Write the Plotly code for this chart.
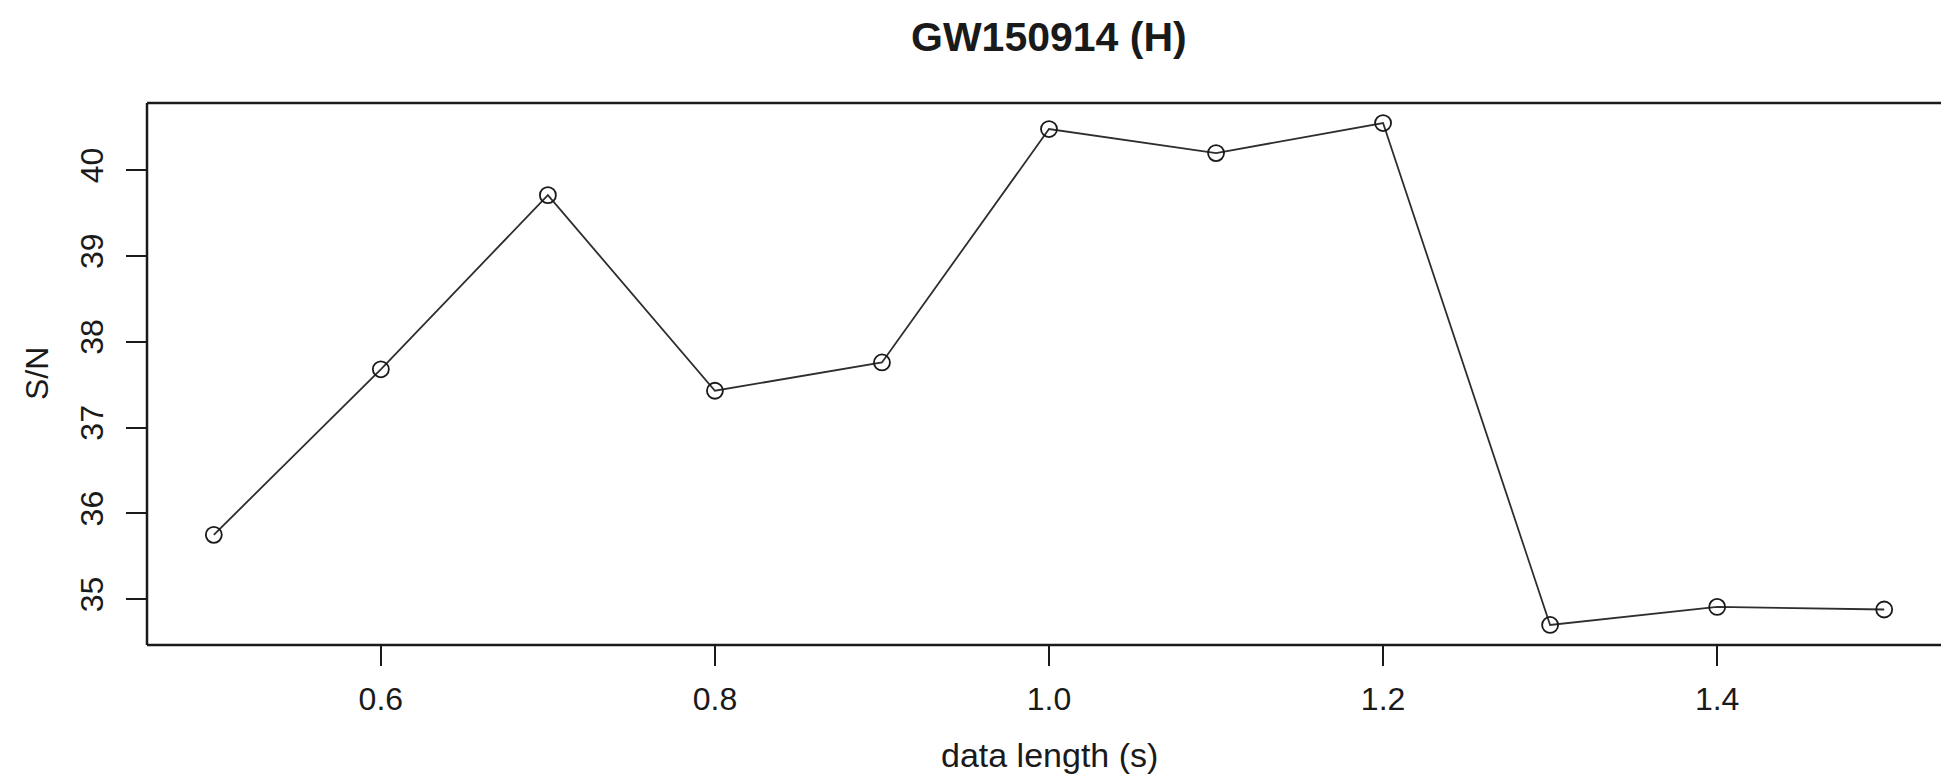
import plotly.graph_objects as go

# Signal-to-noise ratio versus analysed data length
data_length_s = [0.5, 0.6, 0.7, 0.8, 0.9, 1.0, 1.1, 1.2, 1.3, 1.4, 1.5]
snr = [35.75, 37.68, 39.71, 37.43, 37.76, 40.48, 40.20, 40.55, 34.70, 34.91, 34.88]

x_ticks = [0.6, 0.8, 1.0, 1.2, 1.4]
x_tick_text = ["0.6", "0.8", "1.0", "1.2", "1.4"]
y_ticks = [35, 36, 37, 38, 39, 40]

title_text = "GW150914 (H)"
x_title = "data length (s)"
y_title = "S/N"

FONT = "Liberation Sans, Arial, Helvetica, sans-serif"
INK = "#1a1a1a"
TICK_SIZE = 32

W, H = 1941, 780
M_L, M_R, M_T, M_B = 147, 0, 103, 135

# R-style 4% padding around the data; the panel runs past the right edge of the page
x_pad = 0.04 * (max(data_length_s) - min(data_length_s))
y_pad = 0.04 * (max(snr) - min(snr))
x_lo = min(data_length_s) - x_pad
x_hi_full = max(data_length_s) + x_pad
full_panel_px = 1804  # width of the full panel in pixels
x_hi = x_lo + (x_hi_full - x_lo) * (W - M_L - M_R) / full_panel_px
x_mid = (x_lo + x_hi_full) / 2
y_lo = min(snr) - y_pad
y_hi = max(snr) + y_pad

fig = go.Figure()
fig.add_trace(go.Scatter(
    x=data_length_s,
    y=snr,
    mode="lines+markers",
    line=dict(color="#2e2e2e", width=1.8),
    marker=dict(symbol="circle-open", size=16, color=INK, line=dict(width=1.8, color=INK)),
    showlegend=False,
    hoverinfo="x+y",
))

# Panel frame: left, top and bottom edges (the right edge lies off the page)
frame = dict(type="line", xref="paper", yref="paper", layer="above",
             line=dict(color=INK, width=2.5))
shapes = [
    dict(frame, x0=0, x1=0, y0=0, y1=1),
    dict(frame, x0=0, x1=1, y0=1, y1=1),
    dict(frame, x0=0, x1=1, y0=0, y1=0),
]

fig.update_layout(
    width=W,
    height=H,
    margin=dict(l=M_L, r=M_R, t=M_T, b=M_B, pad=0),
    paper_bgcolor="white",
    plot_bgcolor="white",
    font=dict(family=FONT, color=INK, size=TICK_SIZE),
    shapes=shapes,
    xaxis=dict(
        range=[x_lo, x_hi],
        tickvals=x_ticks,
        ticktext=x_tick_text,
        ticks="outside",
        ticklen=20,
        tickwidth=1.5,
        tickcolor=INK,
        showline=False,
        showgrid=False,
        zeroline=False,
        tickfont=dict(size=TICK_SIZE, family=FONT, color=INK),
        ticklabelstandoff=6,
    ),
    yaxis=dict(
        range=[y_lo, y_hi],
        tickvals=y_ticks,
        ticks="outside",
        ticklen=20,
        tickwidth=1.5,
        tickcolor=INK,
        showline=False,
        showgrid=False,
        zeroline=False,
        tickangle=-90,
        tickfont=dict(size=TICK_SIZE, family=FONT, color=INK),
        ticklabelstandoff=10,
    ),
    annotations=[
        dict(text=f"<b>{title_text}</b>", xref="x", yref="paper", x=x_mid, y=1.0,
             yshift=66, xanchor="center", yanchor="middle", showarrow=False,
             font=dict(size=41, family=FONT, color=INK)),
        dict(text=x_title, xref="x", yref="paper", x=x_mid, y=0.0,
             yshift=-110, xanchor="center", yanchor="middle", showarrow=False,
             font=dict(size=34, family=FONT, color=INK)),
        dict(text=y_title, xref="paper", yref="y", x=0.0, y=(y_lo + y_hi) / 2,
             xshift=-110, xanchor="center", yanchor="middle", textangle=-90,
             showarrow=False, font=dict(size=32, family=FONT, color=INK)),
    ],
)

fig.write_html("out.html")
